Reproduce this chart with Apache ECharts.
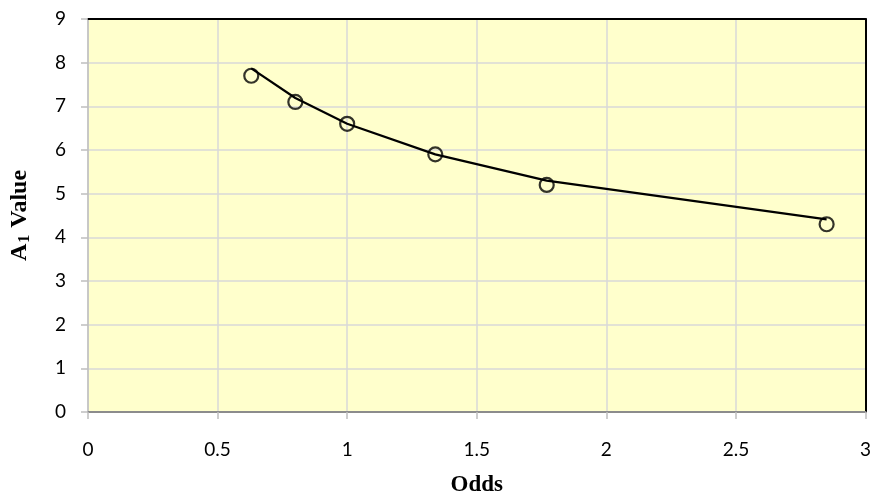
<!DOCTYPE html>
<html><head><meta charset="utf-8">
<script src="https://cdn.jsdelivr.net/npm/echarts@6/dist/echarts.min.js"></script>
<style>html,body{margin:0;padding:0;background:#fff}#c{width:874px;height:502px}</style>
</head><body><div id="c"></div>
<script>
var oddsX = [0.63, 0.80, 1.00, 1.34, 1.77, 2.85];
var a1Values = [7.7, 7.1, 6.6, 5.9, 5.2, 4.3];
var fitX = [0.63, 0.80, 1.00, 1.34, 1.77, 2.85];
var fitValues = [7.87, 7.19, 6.6, 5.9, 5.3, 4.41];
var xTicks = [0, 0.5, 1, 1.5, 2, 2.5, 3];
var yTicks = [0,1,2,3,4,5,6,7,8,9];

function pairs(xs, ys){ return xs.map(function(x,i){return [x, ys[i]];}); }

var tickFont = {fontFamily:'Lato, Open Sans, sans-serif', fontSize:19, color:'#000'};
var chart = echarts.init(document.getElementById('c'));
chart.setOption({
  animation:false,
  grid:{left:88,right:8,top:19,bottom:85,show:true,backgroundColor:'#FFFFCC',borderWidth:0},
  xAxis:[{
    type:'value',min:0,max:3,interval:0.5,
    name:'Odds',nameLocation:'middle',nameGap:62,
    nameTextStyle:{fontFamily:'Liberation Serif',fontWeight:'bold',fontSize:23,color:'#000'},
    axisLine:{show:true,lineStyle:{color:'#8c8c8c',width:2}},
    axisTick:{show:true,length:7,lineStyle:{color:'#bfbfbf',width:1.5}},
    axisLabel:Object.assign({margin:28,formatter:function(v){return String(v);}},tickFont),
    splitLine:{show:true,lineStyle:{color:'#d9d9d9',width:1.5}}
  },{
    type:'value',position:'top',min:0,max:3,
    axisLine:{show:true,onZero:false,lineStyle:{color:'#000',width:2}},
    axisTick:{show:false},axisLabel:{show:false},splitLine:{show:false}
  }],
  yAxis:[{
    type:'value',min:0,max:9,interval:1,
    name:'{a|A}{s|1}{a| Value}',nameLocation:'middle',nameGap:55,nameRotate:90,
    nameTextStyle:{rich:{
      a:{fontFamily:'Liberation Serif',fontWeight:'bold',fontSize:24,color:'#000'},
      s:{fontFamily:'Liberation Serif',fontWeight:'bold',fontSize:16,color:'#000',padding:[10,1,0,1]}
    }},
    axisLine:{show:true,lineStyle:{color:'#bfbfbf',width:1.5}},
    axisTick:{show:true,length:7,lineStyle:{color:'#bfbfbf',width:1.5}},
    axisLabel:Object.assign({margin:22},tickFont),
    splitLine:{show:true,lineStyle:{color:'#d9d9d9',width:1.5}}
  },{
    type:'value',position:'right',min:0,max:9,
    axisLine:{show:true,onZero:false,lineStyle:{color:'#000',width:2}},
    axisTick:{show:false},axisLabel:{show:false},splitLine:{show:false}
  }],
  series:[{
    type:'line',data:pairs(fitX, fitValues),showSymbol:false,symbol:'none',
    lineStyle:{color:'#000',width:2.2},z:3
  },{
    type:'scatter',data:pairs(oddsX, a1Values),symbol:'circle',symbolSize:14,
    itemStyle:{color:'rgba(0,0,0,0)',borderColor:'#000',borderWidth:2.2},z:4
  }]
});
</script></body></html>
